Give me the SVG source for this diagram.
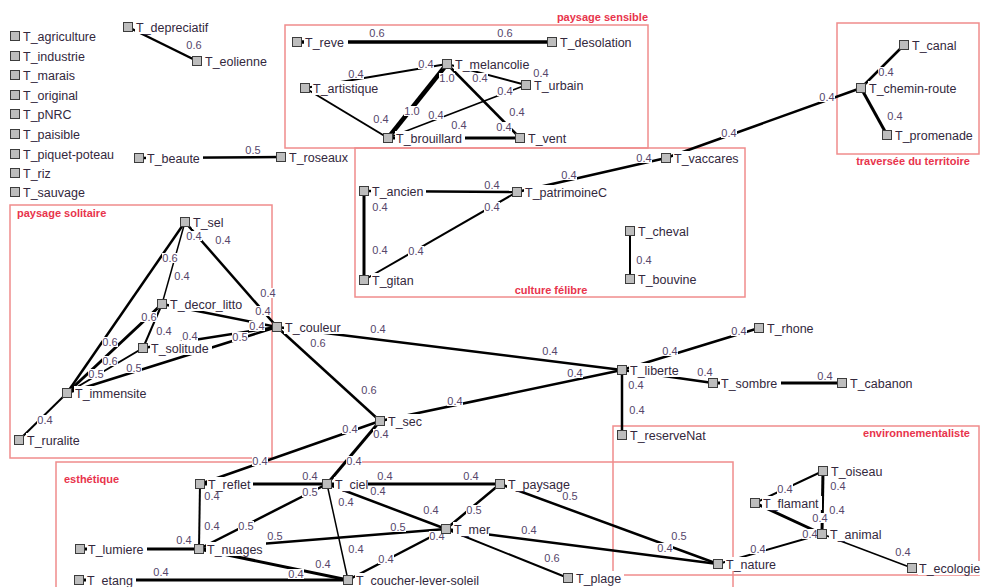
<svg xmlns="http://www.w3.org/2000/svg" width="982" height="587" viewBox="0 0 982 587">
<style>
.box{fill:none;stroke:#f08c8c;stroke-width:1.5}
.gt{font-family:"Liberation Sans",Arial,sans-serif;font-size:11px;font-weight:bold;fill:#e8344c}
.e line{stroke:#000;stroke-linecap:butt}
.a{stroke-width:1.5}.b{stroke-width:2}.c{stroke-width:2.5}.d{stroke-width:3}.f{stroke-width:4.5}
.el rect{fill:#fff}
.el text{font-family:"Liberation Sans",Arial,sans-serif;font-size:11px;fill:#56466a;text-anchor:middle}
.lb{fill:#fff}
.nt{font-family:"Liberation Sans",Arial,sans-serif;font-size:12.5px;fill:#33283d}
.sq{fill:#bdbdbd;stroke:#3c3c3c;stroke-width:1}
</style>
<rect width="982" height="587" fill="#fff"/>
<g id="groups">
<rect class="box" x="285" y="25" width="363" height="123"/><text class="gt" x="648" y="21" text-anchor="end">paysage sensible</text>
<rect class="box" x="837" y="23" width="142" height="131"/><text class="gt" x="913" y="165" text-anchor="middle">traversée du territoire</text>
<rect class="box" x="355" y="148" width="390" height="149"/><text class="gt" x="551" y="294" text-anchor="middle">culture félibre</text>
<rect class="box" x="10" y="205" width="262" height="253"/><text class="gt" x="17" y="217">paysage solitaire</text>
<rect class="box" x="613" y="426" width="366" height="149"/><text class="gt" x="970" y="437" text-anchor="end">environnementaliste</text>
<rect class="box" x="56" y="462" width="677" height="140"/><text class="gt" x="64" y="483">esthétique</text>
</g>
<g id="connectors" class="e">
<line class="c" x1="128" y1="27" x2="197" y2="61"/>
<line class="c" x1="139" y1="158" x2="281" y2="157"/>
<line class="f" x1="297" y1="42" x2="552" y2="42" style="stroke-width:3.5"/>
<line class="b" x1="305" y1="88" x2="447" y2="64"/>
<line class="f" x1="447" y1="64" x2="388" y2="138"/>
<line class="c" x1="447" y1="64" x2="520" y2="138"/>
<line class="b" x1="447" y1="64" x2="526" y2="85"/>
<line class="a" x1="526" y1="85" x2="388" y2="138"/>
<line class="b" x1="305" y1="88" x2="388" y2="138"/>
<line class="d" x1="388" y1="138" x2="520" y2="138"/>
<line class="c" x1="904" y1="45" x2="861" y2="88"/>
<line class="d" x1="861" y1="88" x2="887" y2="135"/>
<line class="c" x1="861" y1="88" x2="666" y2="158"/>
<line class="c" x1="364" y1="191" x2="517" y2="192"/>
<line class="d" x1="364" y1="191" x2="364" y2="280"/>
<line class="b" x1="364" y1="280" x2="517" y2="192"/>
<line class="c" x1="517" y1="192" x2="666" y2="158"/>
<line class="b" x1="630" y1="231" x2="630" y2="279"/>
<line class="c" x1="185" y1="222" x2="67" y2="393"/>
<line class="a" x1="185" y1="222" x2="162" y2="304"/>
<line class="c" x1="185" y1="222" x2="277" y2="327"/>
<line class="c" x1="162" y1="304" x2="277" y2="327"/>
<line class="d" x1="162" y1="304" x2="67" y2="393"/>
<line class="b" x1="162" y1="304" x2="143" y2="348"/>
<line class="b" x1="67" y1="393" x2="143" y2="348"/>
<line class="c" x1="67" y1="393" x2="277" y2="327"/>
<line class="c" x1="143" y1="348" x2="277" y2="327"/>
<line class="b" x1="67" y1="393" x2="19" y2="440"/>
<line class="c" x1="277" y1="327" x2="622" y2="370"/>
<line class="c" x1="277" y1="327" x2="380" y2="421"/>
<line class="c" x1="380" y1="421" x2="622" y2="370"/>
<line class="c" x1="622" y1="370" x2="622" y2="435"/>
<line class="c" x1="622" y1="370" x2="759" y2="328"/>
<line class="c" x1="622" y1="370" x2="713" y2="383"/>
<line class="d" x1="713" y1="383" x2="842" y2="383"/>
<line class="b" x1="823" y1="471" x2="755" y2="503"/>
<line class="d" x1="823" y1="471" x2="822" y2="534"/>
<line class="d" x1="755" y1="503" x2="822" y2="534"/>
<line class="b" x1="718" y1="564" x2="822" y2="534"/>
<line class="a" x1="822" y1="534" x2="912" y2="568"/>
<line class="c" x1="380" y1="421" x2="200" y2="484"/>
<line class="d" x1="380" y1="421" x2="327" y2="484"/>
<line class="d" x1="200" y1="484" x2="327" y2="484"/>
<line class="b" x1="200" y1="484" x2="199" y2="549"/>
<line class="c" x1="199" y1="549" x2="327" y2="484"/>
<line class="d" x1="80" y1="549" x2="199" y2="549"/>
<line class="c" x1="199" y1="549" x2="446" y2="529"/>
<line class="d" x1="199" y1="549" x2="348" y2="580"/>
<line class="d" x1="79" y1="580" x2="348" y2="580"/>
<line class="a" x1="327" y1="484" x2="348" y2="580"/>
<line class="c" x1="327" y1="484" x2="446" y2="529"/>
<line class="d" x1="327" y1="484" x2="500" y2="484"/>
<line class="c" x1="500" y1="484" x2="446" y2="529"/>
<line class="c" x1="500" y1="484" x2="718" y2="564"/>
<line class="c" x1="446" y1="529" x2="718" y2="564"/>
<line class="b" x1="446" y1="529" x2="568" y2="578"/>
<line class="c" x1="446" y1="529" x2="348" y2="580"/>
</g>
<g id="edge-labels" class="el">
<rect x="186" y="41" width="16" height="10"/><text x="194" y="49">0.6</text>
<rect x="245" y="145" width="16" height="10"/><text x="253" y="154">0.5</text>
<rect x="369" y="28" width="16" height="10"/><text x="377" y="37">0.6</text>
<rect x="497" y="28" width="16" height="10"/><text x="505" y="37">0.6</text>
<rect x="348" y="69" width="16" height="10"/><text x="356" y="78">0.4</text>
<rect x="418" y="59" width="16" height="10"/><text x="426" y="68">0.4</text>
<rect x="439" y="73" width="16" height="10"/><text x="447" y="82">1.0</text>
<rect x="472" y="73" width="16" height="10"/><text x="480" y="82">0.4</text>
<rect x="533" y="69" width="16" height="10"/><text x="541" y="77">0.4</text>
<rect x="497" y="86" width="16" height="10"/><text x="505" y="95">0.4</text>
<rect x="428" y="110" width="16" height="10"/><text x="436" y="119">0.4</text>
<rect x="373" y="114" width="16" height="10"/><text x="381" y="123">0.4</text>
<rect x="404" y="106" width="16" height="10"/><text x="412" y="115">1.0</text>
<rect x="509" y="107" width="16" height="10"/><text x="517" y="116">0.4</text>
<rect x="496" y="122" width="16" height="10"/><text x="504" y="131">0.4</text>
<rect x="451" y="120" width="16" height="10"/><text x="459" y="129">0.4</text>
<rect x="878" y="67" width="16" height="10"/><text x="886" y="76">0.4</text>
<rect x="887" y="111" width="16" height="10"/><text x="895" y="120">0.4</text>
<rect x="819" y="92" width="16" height="10"/><text x="827" y="101">0.4</text>
<rect x="721" y="128" width="16" height="10"/><text x="729" y="137">0.4</text>
<rect x="484" y="180" width="16" height="10"/><text x="492" y="189">0.4</text>
<rect x="372" y="202" width="16" height="10"/><text x="380" y="211">0.4</text>
<rect x="372" y="245" width="16" height="10"/><text x="380" y="254">0.4</text>
<rect x="484" y="202" width="16" height="10"/><text x="492" y="211">0.4</text>
<rect x="408" y="246" width="16" height="10"/><text x="416" y="255">0.4</text>
<rect x="561" y="170" width="16" height="10"/><text x="569" y="179">0.4</text>
<rect x="636" y="153" width="16" height="10"/><text x="644" y="162">0.4</text>
<rect x="636" y="255" width="16" height="10"/><text x="644" y="264">0.4</text>
<rect x="162" y="253" width="16" height="10"/><text x="170" y="262">0.6</text>
<rect x="174" y="271" width="16" height="10"/><text x="182" y="280">0.4</text>
<rect x="186" y="231" width="16" height="10"/><text x="194" y="240">0.4</text>
<rect x="215" y="235" width="16" height="10"/><text x="223" y="244">0.4</text>
<rect x="260" y="288" width="16" height="10"/><text x="268" y="297">0.4</text>
<rect x="255" y="306" width="16" height="10"/><text x="263" y="315">0.4</text>
<rect x="249" y="321" width="16" height="10"/><text x="257" y="330">0.4</text>
<rect x="232" y="332" width="16" height="10"/><text x="240" y="341">0.5</text>
<rect x="102" y="337" width="16" height="10"/><text x="110" y="346">0.6</text>
<rect x="102" y="356" width="16" height="10"/><text x="110" y="365">0.6</text>
<rect x="88" y="369" width="16" height="10"/><text x="96" y="378">0.5</text>
<rect x="126" y="363" width="16" height="10"/><text x="134" y="372">0.5</text>
<rect x="156" y="326" width="16" height="10"/><text x="164" y="335">0.4</text>
<rect x="141" y="312" width="16" height="10"/><text x="149" y="321">0.6</text>
<rect x="37" y="415" width="16" height="10"/><text x="45" y="424">0.4</text>
<rect x="182" y="331" width="16" height="10"/><text x="190" y="340">0.4</text>
<rect x="370" y="324" width="16" height="10"/><text x="378" y="333">0.4</text>
<rect x="542" y="346" width="16" height="10"/><text x="550" y="355">0.4</text>
<rect x="310" y="338" width="16" height="10"/><text x="318" y="347">0.6</text>
<rect x="361" y="385" width="16" height="10"/><text x="369" y="394">0.6</text>
<rect x="447" y="396" width="16" height="10"/><text x="455" y="405">0.4</text>
<rect x="567" y="368" width="16" height="10"/><text x="575" y="377">0.4</text>
<rect x="629" y="405" width="16" height="10"/><text x="637" y="414">0.4</text>
<rect x="628" y="380" width="16" height="10"/><text x="636" y="389">0.4</text>
<rect x="662" y="346" width="16" height="10"/><text x="670" y="355">0.4</text>
<rect x="731" y="326" width="16" height="10"/><text x="739" y="335">0.4</text>
<rect x="697" y="367" width="16" height="10"/><text x="705" y="376">0.4</text>
<rect x="817" y="371" width="16" height="10"/><text x="825" y="380">0.4</text>
<rect x="777" y="484" width="16" height="10"/><text x="785" y="493">0.4</text>
<rect x="829" y="505" width="16" height="10"/><text x="837" y="514">0.4</text>
<rect x="812" y="513" width="16" height="10"/><text x="820" y="522">0.4</text>
<rect x="802" y="529" width="16" height="10"/><text x="810" y="538">0.4</text>
<rect x="750" y="544" width="16" height="10"/><text x="758" y="553">0.4</text>
<rect x="895" y="547" width="16" height="10"/><text x="903" y="556">0.4</text>
<rect x="830" y="481" width="16" height="10"/><text x="838" y="490">0.4</text>
<rect x="302" y="471" width="16" height="10"/><text x="310" y="480">0.4</text>
<rect x="377" y="471" width="16" height="10"/><text x="385" y="480">0.4</text>
<rect x="463" y="471" width="16" height="10"/><text x="471" y="480">0.4</text>
<rect x="370" y="486" width="16" height="10"/><text x="378" y="495">0.4</text>
<rect x="204" y="491" width="16" height="10"/><text x="212" y="500">0.4</text>
<rect x="204" y="521" width="16" height="10"/><text x="212" y="530">0.4</text>
<rect x="238" y="521" width="16" height="10"/><text x="246" y="530">0.5</text>
<rect x="302" y="487" width="16" height="10"/><text x="310" y="496">0.5</text>
<rect x="176" y="535" width="16" height="10"/><text x="184" y="544">0.4</text>
<rect x="267" y="531" width="16" height="10"/><text x="275" y="540">0.5</text>
<rect x="390" y="522" width="16" height="10"/><text x="398" y="531">0.5</text>
<rect x="315" y="559" width="16" height="10"/><text x="323" y="568">0.4</text>
<rect x="348" y="544" width="16" height="10"/><text x="356" y="553">0.4</text>
<rect x="153" y="567" width="16" height="10"/><text x="161" y="576">0.4</text>
<rect x="288" y="569" width="16" height="10"/><text x="296" y="578">0.4</text>
<rect x="338" y="497" width="16" height="10"/><text x="346" y="506">0.4</text>
<rect x="423" y="505" width="16" height="10"/><text x="431" y="514">0.4</text>
<rect x="466" y="505" width="16" height="10"/><text x="474" y="514">0.5</text>
<rect x="562" y="491" width="16" height="10"/><text x="570" y="500">0.5</text>
<rect x="671" y="531" width="16" height="10"/><text x="679" y="540">0.5</text>
<rect x="521" y="525" width="16" height="10"/><text x="529" y="534">0.4</text>
<rect x="657" y="543" width="16" height="10"/><text x="665" y="552">0.4</text>
<rect x="544" y="553" width="16" height="10"/><text x="552" y="562">0.6</text>
<rect x="429" y="531" width="16" height="10"/><text x="437" y="540">0.4</text>
<rect x="378" y="554" width="16" height="10"/><text x="386" y="563">0.4</text>
<rect x="342" y="424" width="16" height="10"/><text x="350" y="433">0.4</text>
<rect x="252" y="456" width="16" height="10"/><text x="260" y="465">0.4</text>
<rect x="373" y="429" width="16" height="10"/><text x="381" y="438">0.4</text>
<rect x="346" y="456" width="16" height="10"/><text x="354" y="465">0.4</text>
</g>
<g id="n-agriculture"><rect class="lb" x="22" y="29" width="77" height="14"/><text class="nt" x="23" y="40.5">T_agriculture</text><rect class="sq" x="10.5" y="31.5" width="9" height="9"/></g>
<g id="n-industrie"><rect class="lb" x="22" y="49" width="66" height="14"/><text class="nt" x="23" y="60.5">T_industrie</text><rect class="sq" x="10.5" y="51.5" width="9" height="9"/></g>
<g id="n-marais"><rect class="lb" x="22" y="68" width="56" height="14"/><text class="nt" x="23" y="79.5">T_marais</text><rect class="sq" x="10.5" y="70.5" width="9" height="9"/></g>
<g id="n-original"><rect class="lb" x="22" y="88" width="59" height="14"/><text class="nt" x="23" y="99.5">T_original</text><rect class="sq" x="10.5" y="90.5" width="9" height="9"/></g>
<g id="n-pNRC"><rect class="lb" x="22" y="107" width="53" height="14"/><text class="nt" x="23" y="118.5">T_pNRC</text><rect class="sq" x="10.5" y="109.5" width="9" height="9"/></g>
<g id="n-paisible"><rect class="lb" x="22" y="127" width="61" height="14"/><text class="nt" x="23" y="138.5">T_paisible</text><rect class="sq" x="10.5" y="129.5" width="9" height="9"/></g>
<g id="n-piquet-poteau"><rect class="lb" x="22" y="147" width="95" height="14"/><text class="nt" x="23" y="158.5">T_piquet-poteau</text><rect class="sq" x="10.5" y="149.5" width="9" height="9"/></g>
<g id="n-riz"><rect class="lb" x="22" y="166" width="32" height="14"/><text class="nt" x="23" y="177.5">T_riz</text><rect class="sq" x="10.5" y="168.5" width="9" height="9"/></g>
<g id="n-sauvage"><rect class="lb" x="22" y="185" width="66" height="14"/><text class="nt" x="23" y="196.5">T_sauvage</text><rect class="sq" x="10.5" y="187.5" width="9" height="9"/></g>
<g id="n-depreciatif"><rect class="lb" x="135" y="20" width="76" height="14"/><text class="nt" x="136" y="31.5">T_depreciatif</text><rect class="sq" x="123.5" y="22.5" width="9" height="9"/></g>
<g id="n-eolienne"><rect class="lb" x="204" y="54" width="66" height="14"/><text class="nt" x="205" y="65.5">T_eolienne</text><rect class="sq" x="192.5" y="56.5" width="9" height="9"/></g>
<g id="n-beaute"><rect class="lb" x="146" y="151" width="57" height="14"/><text class="nt" x="147" y="162.5">T_beaute</text><rect class="sq" x="134.5" y="153.5" width="9" height="9"/></g>
<g id="n-roseaux"><rect class="lb" x="288" y="150" width="63" height="14"/><text class="nt" x="289" y="161.5">T_roseaux</text><rect class="sq" x="276.5" y="152.5" width="9" height="9"/></g>
<g id="n-reve"><rect class="lb" x="304" y="35" width="44" height="14"/><text class="nt" x="305" y="46.5">T_reve</text><rect class="sq" x="292.5" y="37.5" width="9" height="9"/></g>
<g id="n-desolation"><rect class="lb" x="559" y="35" width="76" height="14"/><text class="nt" x="560" y="46.5">T_desolation</text><rect class="sq" x="547.5" y="37.5" width="9" height="9"/></g>
<g id="n-melancolie"><rect class="lb" x="454" y="57" width="78" height="14"/><text class="nt" x="455" y="68.5">T_melancolie</text><rect class="sq" x="442.5" y="59.5" width="9" height="9"/></g>
<g id="n-artistique"><rect class="lb" x="312" y="81" width="69" height="14"/><text class="nt" x="313" y="92.5">T_artistique</text><rect class="sq" x="300.5" y="83.5" width="9" height="9"/></g>
<g id="n-urbain"><rect class="lb" x="533" y="78" width="53" height="14"/><text class="nt" x="534" y="89.5">T_urbain</text><rect class="sq" x="521.5" y="80.5" width="9" height="9"/></g>
<g id="n-brouillard"><rect class="lb" x="395" y="131" width="70" height="14"/><text class="nt" x="396" y="142.5">T_brouillard</text><rect class="sq" x="383.5" y="133.5" width="9" height="9"/></g>
<g id="n-vent"><rect class="lb" x="527" y="131" width="42" height="14"/><text class="nt" x="528" y="142.5">T_vent</text><rect class="sq" x="515.5" y="133.5" width="9" height="9"/></g>
<g id="n-canal"><rect class="lb" x="911" y="38" width="49" height="14"/><text class="nt" x="912" y="49.5">T_canal</text><rect class="sq" x="899.5" y="40.5" width="9" height="9"/></g>
<g id="n-chemin-route"><rect class="lb" x="868" y="81" width="92" height="14"/><text class="nt" x="869" y="92.5">T_chemin-route</text><rect class="sq" x="856.5" y="83.5" width="9" height="9"/></g>
<g id="n-promenade"><rect class="lb" x="894" y="128" width="82" height="14"/><text class="nt" x="895" y="139.5">T_promenade</text><rect class="sq" x="882.5" y="130.5" width="9" height="9"/></g>
<g id="n-vaccares"><rect class="lb" x="673" y="151" width="69" height="14"/><text class="nt" x="674" y="162.5">T_vaccares</text><rect class="sq" x="661.5" y="153.5" width="9" height="9"/></g>
<g id="n-ancien"><rect class="lb" x="371" y="184" width="55" height="14"/><text class="nt" x="372" y="195.5">T_ancien</text><rect class="sq" x="359.5" y="186.5" width="9" height="9"/></g>
<g id="n-patrimoineC"><rect class="lb" x="524" y="185" width="86" height="14"/><text class="nt" x="525" y="196.5">T_patrimoineC</text><rect class="sq" x="512.5" y="187.5" width="9" height="9"/></g>
<g id="n-gitan"><rect class="lb" x="371" y="273" width="46" height="14"/><text class="nt" x="372" y="284.5">T_gitan</text><rect class="sq" x="359.5" y="275.5" width="9" height="9"/></g>
<g id="n-cheval"><rect class="lb" x="637" y="224" width="55" height="14"/><text class="nt" x="638" y="235.5">T_cheval</text><rect class="sq" x="625.5" y="226.5" width="9" height="9"/></g>
<g id="n-bouvine"><rect class="lb" x="637" y="272" width="62" height="14"/><text class="nt" x="638" y="283.5">T_bouvine</text><rect class="sq" x="625.5" y="274.5" width="9" height="9"/></g>
<g id="n-sel"><rect class="lb" x="192" y="215" width="35" height="14"/><text class="nt" x="193" y="226.5">T_sel</text><rect class="sq" x="180.5" y="217.5" width="9" height="9"/></g>
<g id="n-decor_litto"><rect class="lb" x="169" y="297" width="76" height="14"/><text class="nt" x="170" y="308.5">T_decor_litto</text><rect class="sq" x="157.5" y="299.5" width="9" height="9"/></g>
<g id="n-solitude"><rect class="lb" x="150" y="341" width="62" height="14"/><text class="nt" x="151" y="352.5">T_solitude</text><rect class="sq" x="138.5" y="343.5" width="9" height="9"/></g>
<g id="n-immensite"><rect class="lb" x="74" y="386" width="76" height="14"/><text class="nt" x="75" y="397.5">T_immensite</text><rect class="sq" x="62.5" y="388.5" width="9" height="9"/></g>
<g id="n-ruralite"><rect class="lb" x="26" y="433" width="57" height="14"/><text class="nt" x="27" y="444.5">T_ruralite</text><rect class="sq" x="14.5" y="435.5" width="9" height="9"/></g>
<g id="n-couleur"><rect class="lb" x="284" y="320" width="60" height="14"/><text class="nt" x="285" y="331.5">T_couleur</text><rect class="sq" x="272.5" y="322.5" width="9" height="9"/></g>
<g id="n-sec"><rect class="lb" x="387" y="414" width="38" height="14"/><text class="nt" x="388" y="425.5">T_sec</text><rect class="sq" x="375.5" y="416.5" width="9" height="9"/></g>
<g id="n-liberte"><rect class="lb" x="629" y="363" width="53" height="14"/><text class="nt" x="630" y="374.5">T_liberte</text><rect class="sq" x="617.5" y="365.5" width="9" height="9"/></g>
<g id="n-reserveNat"><rect class="lb" x="629" y="428" width="80" height="14"/><text class="nt" x="630" y="439.5">T_reserveNat</text><rect class="sq" x="617.5" y="430.5" width="9" height="9"/></g>
<g id="n-rhone"><rect class="lb" x="766" y="321" width="51" height="14"/><text class="nt" x="767" y="332.5">T_rhone</text><rect class="sq" x="754.5" y="323.5" width="9" height="9"/></g>
<g id="n-sombre"><rect class="lb" x="720" y="376" width="61" height="14"/><text class="nt" x="721" y="387.5">T_sombre</text><rect class="sq" x="708.5" y="378.5" width="9" height="9"/></g>
<g id="n-cabanon"><rect class="lb" x="849" y="376" width="67" height="14"/><text class="nt" x="850" y="387.5">T_cabanon</text><rect class="sq" x="837.5" y="378.5" width="9" height="9"/></g>
<g id="n-oiseau"><rect class="lb" x="830" y="464" width="55" height="14"/><text class="nt" x="831" y="475.5">T_oiseau</text><rect class="sq" x="818.5" y="466.5" width="9" height="9"/></g>
<g id="n-flamant"><rect class="lb" x="762" y="496" width="60" height="14"/><text class="nt" x="763" y="507.5">T_flamant</text><rect class="sq" x="750.5" y="498.5" width="9" height="9"/></g>
<g id="n-animal"><rect class="lb" x="829" y="527" width="55" height="14"/><text class="nt" x="830" y="538.5">T_animal</text><rect class="sq" x="817.5" y="529.5" width="9" height="9"/></g>
<g id="n-ecologie"><rect class="lb" x="918" y="561" width="63" height="14"/><text class="nt" x="919" y="572.5">T_ecologie</text><rect class="sq" x="907.5" y="563.5" width="9" height="9"/></g>
<g id="n-nature"><rect class="lb" x="725" y="557" width="54" height="14"/><text class="nt" x="726" y="568.5">T_nature</text><rect class="sq" x="713.5" y="559.5" width="9" height="9"/></g>
<g id="n-reflet"><rect class="lb" x="207" y="477" width="46" height="14"/><text class="nt" x="208" y="488.5">T_reflet</text><rect class="sq" x="195.5" y="479.5" width="9" height="9"/></g>
<g id="n-nuages"><rect class="lb" x="206" y="542" width="60" height="14"/><text class="nt" x="207" y="553.5">T_nuages</text><rect class="sq" x="194.5" y="544.5" width="9" height="9"/></g>
<g id="n-lumiere"><rect class="lb" x="87" y="542" width="60" height="14"/><text class="nt" x="88" y="553.5">T_lumiere</text><rect class="sq" x="75.5" y="544.5" width="9" height="9"/></g>
<g id="n-etang"><rect class="lb" x="86" y="573" width="50" height="14"/><text class="nt" x="87" y="584.5">T_etang</text><rect class="sq" x="74.5" y="575.5" width="9" height="9"/></g>
<g id="n-ciel"><rect class="lb" x="334" y="477" width="34" height="14"/><text class="nt" x="335" y="488.5">T_ciel</text><rect class="sq" x="322.5" y="479.5" width="9" height="9"/></g>
<g id="n-paysage"><rect class="lb" x="507" y="477" width="66" height="14"/><text class="nt" x="508" y="488.5">T_paysage</text><rect class="sq" x="495.5" y="479.5" width="9" height="9"/></g>
<g id="n-mer"><rect class="lb" x="453" y="522" width="36" height="14"/><text class="nt" x="454" y="533.5">T_mer</text><rect class="sq" x="441.5" y="524.5" width="9" height="9"/></g>
<g id="n-coucher-lever-soleil"><rect class="lb" x="355" y="573" width="127" height="14"/><text class="nt" x="356" y="584.5">T_coucher-lever-soleil</text><rect class="sq" x="343.5" y="575.5" width="9" height="9"/></g>
<g id="n-plage"><rect class="lb" x="575" y="571" width="49" height="14"/><text class="nt" x="576" y="582.5">T_plage</text><rect class="sq" x="563.5" y="573.5" width="9" height="9"/></g>
</svg>
